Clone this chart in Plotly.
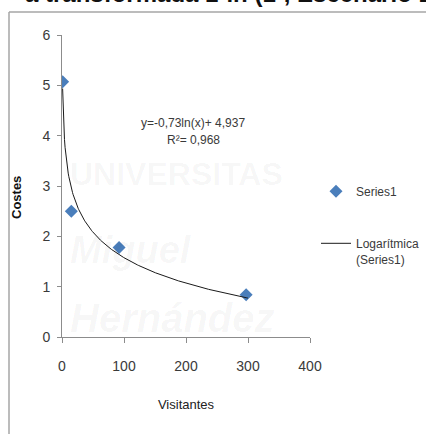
import numpy as np
import plotly.graph_objects as go

# Data
visitantes = [1, 15, 92, 297]
costes = [5.07, 2.5, 1.78, 0.84]
trend_a = -0.73
trend_b = 4.937
trend_x_range = [1, 300]
x_ticks = [0, 100, 200, 300, 400]
y_ticks = [0, 1, 2, 3, 4, 5, 6]
equation_text = "y=-0,73ln(x)+ 4,937"
r2_text = "R²= 0,968"

FONT = "Liberation Sans, Arial, sans-serif"
TXT = "#3a3a3a"

xt = np.linspace(trend_x_range[0], trend_x_range[1], 300)
yt = trend_a * np.log(xt) + trend_b

fig = go.Figure()
fig.add_trace(go.Scatter(
    x=visitantes, y=costes, mode="markers", name="Series1",
    marker=dict(symbol="diamond", size=10, color="#4a7ebb"),
    legendgroup="a",
))
fig.add_trace(go.Scatter(
    x=xt, y=yt, mode="lines", name="Logarítmica<br>(Series1)",
    line=dict(color="#1a1a1a", width=1),
    legendgroup="b",
))

L, R, T, B = 62, 116, 35, 97
W, H = 426, 434
pw, ph = W - L - R, H - T - B

def px(xp):
    return (xp - L) / pw

def py(yp):
    return (H - B - yp) / ph

def note(x, y, text, font, **kw):
    fig.add_annotation(x=px(x), y=py(y), xref="paper", yref="paper", text=text,
                       showarrow=False, xanchor=kw.pop("xanchor", "center"),
                       yanchor=kw.pop("yanchor", "middle"), font=font, **kw)

fig.update_layout(
    width=W, height=H,
    margin=dict(l=L, r=R, t=T, b=B, autoexpand=False),
    paper_bgcolor="white", plot_bgcolor="white",
    font=dict(family=FONT, size=13, color=TXT),
    showlegend=True,
    legend=dict(x=px(316), y=py(177), xanchor="left", yanchor="top",
                traceorder="grouped", tracegroupgap=33, valign="top",
                font=dict(family=FONT, size=12, color=TXT),
                itemwidth=30, bgcolor="rgba(0,0,0,0)"),
    xaxis=dict(range=[0, 400], tickvals=x_ticks, showgrid=False, zeroline=False,
               showline=True, linecolor="#8c8c8c", linewidth=1,
               ticks="outside", ticklen=5, tickcolor="#8c8c8c",
               ticklabelstandoff=11, automargin=False,
               tickfont=dict(family=FONT, size=14, color=TXT),
               title=dict(text="Visitantes", standoff=27,
                          font=dict(family=FONT, size=13, color="#222"))),
    yaxis=dict(range=[0, 6], tickvals=y_ticks, showgrid=False, zeroline=False,
               showline=True, linecolor="#8c8c8c", linewidth=1,
               ticks="outside", ticklen=4, tickcolor="#8c8c8c",
               ticklabelstandoff=4, automargin=False,
               tickfont=dict(family=FONT, size=14, color=TXT),
               title=dict(text="")),
)

# Watermark (very faint, behind everything)
wm = "rgba(0,0,0,0.04)"
note(68, 174, "<b>UNIVERSITAS</b>", dict(family=FONT, size=32, color=wm), xanchor="left")
note(68, 250, "<b><i>Miguel</i></b>", dict(family=FONT, size=38, color=wm), xanchor="left")
note(68, 318, "<b><i>Hernández</i></b>", dict(family=FONT, size=40, color=wm), xanchor="left")

# Equation labels
note(193, 123, equation_text, dict(family=FONT, size=12, color=TXT))
note(193, 140, r2_text, dict(family=FONT, size=12, color=TXT))

# Y axis title
note(16, 198, "<b>Costes</b>", dict(family=FONT, size=13, color="#111"), textangle=-90)

# Clipped title at top
note(232, 9, "<b>a transformada 1-ln (1-, Escenario 1)</b>",
     dict(family=FONT, size=24, color="#111"), yanchor="bottom")

# Chart frame (top and left border)
fig.add_shape(type="line", xref="paper", yref="paper",
              x0=px(9), x1=px(430), y0=py(12), y1=py(12),
              line=dict(color="#a6a6a6", width=1.5))
fig.add_shape(type="line", xref="paper", yref="paper",
              x0=px(9), x1=px(9), y0=py(12), y1=py(440),
              line=dict(color="#a6a6a6", width=1.5))

fig.write_html("out.html", config={"displayModeBar": False},
               post_script="document.body.style.margin='0';document.body.style.overflow='hidden';")
